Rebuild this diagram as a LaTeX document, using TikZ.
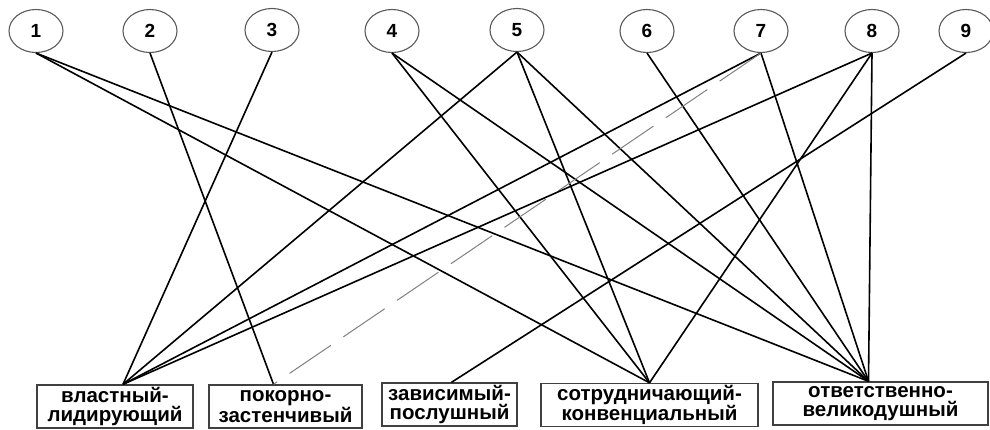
\documentclass[tikz,border=0pt]{standalone}
\usepackage{fontspec}
\setmainfont{Liberation Sans}
\usepackage{tikz}
\usetikzlibrary{shapes.geometric}

\begin{document}
\begin{tikzpicture}[x=1pt,y=-1pt,line width=1.6pt,
    num node/.style={ellipse,draw=black!65,line width=1.1pt,minimum width=54pt,
                     minimum height=43pt,inner sep=0pt,font=\fontsize{19}{19}\selectfont\bfseries},
    type node/.style={rectangle,draw=black!75,line width=1.4pt,minimum height=43pt,
                      inner sep=0pt,align=center,font=\fontsize{20.5}{19}\selectfont\bfseries}]

  \useasboundingbox (0,0) rectangle (990,429);

  % numbered traits
  \node[num node] (1) at (36,31)  {1};
  \node[num node] (2) at (150,31) {2};
  \node[num node] (3) at (272,30) {3};
  \node[num node] (4) at (392,31) {4};
  \node[num node] (5) at (517,30) {5};
  \node[num node] (6) at (647,31) {6};
  \node[num node] (7) at (761,31) {7};
  \node[num node] (8) at (872,31) {8};
  \node[num node] (9) at (966,31) {9};

  % types
  \node[type node,minimum width=156pt] (vl) at (115,406.5)   {властный-\\лидирующий};
  \node[type node,minimum width=153pt] (pz) at (285.5,406.5) {покорно-\\застенчивый};
  \node[type node,minimum width=135pt] (zp) at (449.5,404.5) {зависимый-\\послушный};
  \node[type node,minimum width=217pt] (sk) at (649.5,405)   {сотрудничающий-\\конвенциальный};
  \node[type node,minimum width=215pt] (ov) at (880.5,403.5) {ответственно-\\великодушный};

  \coordinate (vl in) at ([xshift=8pt]vl.north);
  \coordinate (pz in) at ([xshift=-12pt]pz.north);
  \coordinate (zp in) at ([xshift=2pt]zp.north);
  \coordinate (sk in) at (sk.north);
  \coordinate (ov in) at ([xshift=-12pt]ov.north);

  \path
    (1.south) edge (sk in)
              edge (ov in)
    (2.south) edge (pz in)
    (3.south) edge (vl in)
    (4.south) edge (sk in)
              edge (ov in)
    (5.south) edge (vl in)
              edge (sk in)
              edge (ov in)
    (6.south) edge (ov in)
    (7.south) edge (vl in)
              edge (ov in)
              edge[gray,line width=1pt,dash pattern=on 50pt off 15pt] (pz in)
    (8.south) edge (vl in)
              edge (sk in)
              edge (ov in)
    (9.south) edge (zp in);
\end{tikzpicture}
\end{document}
